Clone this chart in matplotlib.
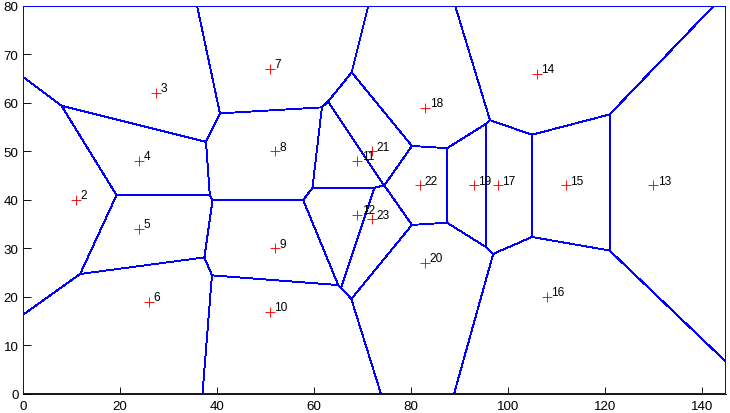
import numpy as np
import matplotlib
matplotlib.use("Agg")
import matplotlib.pyplot as plt

# ---- data ----
point_ids = [2, 3, 4, 5, 6, 7, 8, 9, 10, 11, 12, 13, 14, 15, 16, 17, 18, 19, 20, 21, 22, 23]
point_x = [11, 27.5, 24, 24, 26, 51, 52, 52, 51, 69, 69, 130, 106, 112, 108, 98, 83, 93, 83, 72, 82, 72]
point_y = [40, 62, 48, 34, 19, 67, 50, 30, 17, 48, 37, 43, 66, 43, 20, 43, 59, 43, 27, 50, 43, 36]
box_x = [0, 145]
box_y = [0, 80]
x_ticks = [0, 20, 40, 60, 80, 100, 120, 140]
y_ticks = [0, 10, 20, 30, 40, 50, 60, 70, 80]

plt.rcParams['font.family'] = ['Liberation Sans', 'DejaVu Sans']


def clip(poly, a, b, c):
    """Keep the part of polygon where a*x + b*y <= c."""
    out = []
    n = len(poly)
    for k in range(n):
        p = poly[k]
        q = poly[(k + 1) % n]
        fp = a * p[0] + b * p[1] - c
        fq = a * q[0] + b * q[1] - c
        if fp <= 0:
            out.append(p)
        if (fp < 0 < fq) or (fq < 0 < fp):
            t = fp / (fp - fq)
            out.append((p[0] + t * (q[0] - p[0]), p[1] + t * (q[1] - p[1])))
    return out


pts = np.column_stack([point_x, point_y]).astype(float)
box = [(box_x[0], box_y[0]), (box_x[1], box_y[0]), (box_x[1], box_y[1]), (box_x[0], box_y[1])]
cells = []
for i, p in enumerate(pts):
    poly = list(box)
    for j, q in enumerate(pts):
        if i == j:
            continue
        d = q - p
        m = (p + q) / 2
        poly = clip(poly, d[0], d[1], d @ m)
        if not poly:
            break
    cells.append(poly)

fig = plt.figure(figsize=(7.30, 4.14), dpi=100)
ax = fig.add_axes([0.0311, 0.0459, 0.9634, 0.9372])

for poly in cells:
    xs = [v[0] for v in poly] + [poly[0][0]]
    ys = [v[1] for v in poly] + [poly[0][1]]
    ax.plot(xs, ys, color='#0000ff', lw=0.65, zorder=3, antialiased=False)

ax.plot(point_x, point_y, linestyle='none', marker='+', markersize=7.2,
        markeredgewidth=0.65, color='#ff0000', zorder=4, antialiased=False)
for pid, x, y in zip(point_ids, point_x, point_y):
    ax.text(x + 0.9, y + 1.0, str(pid), fontsize=8.6, ha='left', va='center',
            color='black', zorder=5)

ax.set_xlim(box_x)
ax.set_ylim(box_y)
ax.set_xticks(x_ticks)
ax.set_yticks(y_ticks)
ax.spines['top'].set_visible(False)
ax.spines['right'].set_visible(False)
ax.spines['left'].set_linewidth(0.65)
ax.spines['bottom'].set_linewidth(0.65)
ax.tick_params(direction='in', length=5.4, width=0.65, labelsize=9.6)
ax.tick_params(axis='x', pad=4.5)
ax.tick_params(axis='y', pad=3.0)

fig.savefig('out.png', dpi=100)
